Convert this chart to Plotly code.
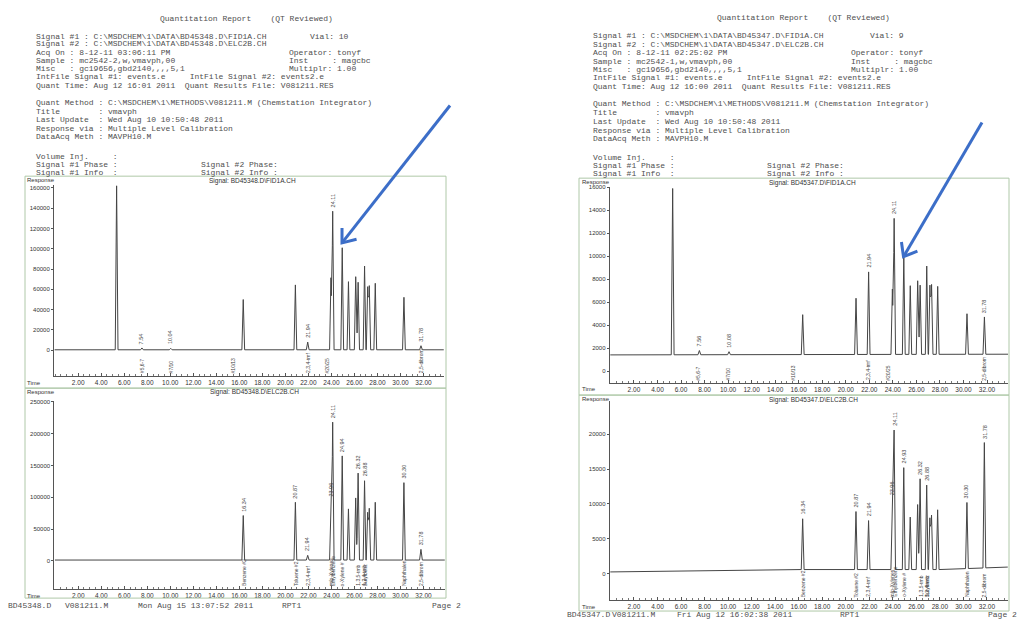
import numpy as np
import plotly.graph_objects as go

W, H = 1019, 620

# ---------------- chromatogram data (retention time in min, apex response) ----------------
# BD45348 - FID1A
fid48_rt = [5.34, 7.54, 10.04, 16.34, 20.87, 21.94, 23.96, 24.11, 24.94, 25.48,
            26.11, 26.32, 26.88, 27.15, 27.29, 27.81, 30.30, 31.78]
fid48_apex = [162000, 2300, 1900, 50000, 64400, 8100, 71500, 137000, 101000, 67600,
              72500, 67000, 83000, 62700, 63700, 66000, 52200, 4500]
fid48_base_t = [0, 34]
fid48_base_v = [500, 500]
fid48_tagged = [7.54, 10.04, 21.94, 24.11, 31.78]
fid48_event_names = ["#5,6-7", "#7/10", "#10/13", "2,3,4-tmf", "#20/25", "2,5-dibrom"]
fid48_event_rt = [7.54, 10.04, 15.47, 21.94, 23.64, 31.78]

# BD45348 - ELC2B
elc48_rt = [16.34, 20.87, 21.94, 23.96, 24.11, 24.94, 25.48, 26.11, 26.32, 26.88,
            27.15, 27.29, 27.81, 30.30, 31.78]
elc48_apex = [71400, 92200, 8900, 94800, 218000, 165000, 81800, 99000, 138000, 126000,
              76500, 82800, 92200, 123000, 18300]
elc48_base_t = [0, 34]
elc48_base_v = [1500, 1500]
elc48_tagged = [16.34, 20.87, 21.94, 23.96, 24.11, 24.94, 26.32, 26.88, 30.30, 31.78]
elc48_event_names = ["Benzene #2", "Toluene #2", "2,3,4-tmf", "m/p-Xylenes", "Ethylbenzene",
                     "o-Xylene #", "1,3,5-tmb", "1,2,4-tmb", "Butylbenz", "Naphthalen", "2,5-dibrom"]
elc48_event_rt = [16.34, 20.87, 21.94, 23.96, 24.11, 24.94, 26.32, 26.84, 26.92, 30.30, 31.78]

# BD45347 - FID1A
fid47_rt = [5.29, 7.56, 10.08, 16.34, 20.87, 21.94, 23.96, 24.11, 24.93, 25.48,
            26.11, 26.32, 26.88, 27.15, 27.29, 27.81, 30.30, 31.78]
fid47_apex = [15900, 1800, 1700, 4920, 6350, 8640, 7150, 13300, 9870, 7440,
              7870, 7490, 9150, 7490, 7550, 7380, 5000, 4720]
fid47_base_t = [0, 34]
fid47_base_v = [1420, 1480]
fid47_tagged = [7.56, 10.08, 21.94, 24.11, 31.78]
fid47_event_names = ["#5,6-7", "#7/10", "#10/13", "2,3,4-tmf", "#20/25", "2,5-dibrom"]
fid47_event_rt = [7.47, 9.95, 15.55, 21.94, 23.62, 31.78]

# BD45347 - ELC2B
elc47_rt = [16.34, 20.87, 21.94, 23.96, 24.11, 24.93, 25.48, 26.11, 26.32, 26.88,
            27.15, 27.29, 27.81, 30.30, 31.78]
elc47_apex = [7860, 8900, 7600, 10700, 20600, 15200, 8100, 9900, 13600, 12700,
              8000, 8400, 9150, 10200, 18800]
elc47_base_t = [0, 16, 28, 34]
elc47_base_v = [230, 570, 570, 940]
elc47_tagged = [16.34, 20.87, 21.94, 23.96, 24.11, 24.93, 26.32, 26.88, 30.30, 31.78]
elc47_event_names = elc48_event_names
elc47_event_rt = [16.34, 20.87, 21.94, 23.96, 24.11, 24.93, 26.32, 26.84, 26.92, 30.30, 31.78]

time_ticks = list(range(2, 33, 2))

# ---------------- page text ----------------
left_header = [
    (158, 15.7, "Quantitation Report    (QT Reviewed)"),
    (34.3, 33.3, r"Signal #1 : C:\MSDCHEM\1\DATA\BD45348.D\FID1A.CH"),
    (308, 33.3, "Vial: 10"),
    (34.3, 41.0, r"Signal #2 : C:\MSDCHEM\1\DATA\BD45348.D\ELC2B.CH"),
    (34.3, 49.3, "Acq On : 8-12-11 03:06:11 PM"),
    (287, 49.3, "Operator: tonyf"),
    (34.3, 57.7, "Sample : mc2542-2,w,vmavph,00"),
    (287, 57.7, "Inst     : magcbc"),
    (34.3, 66.3, "Misc   : gc19656,gbd2140,,,,5,1"),
    (287, 66.3, "Multiplr: 1.00"),
    (34.3, 74.3, "IntFile Signal #1: events.e     IntFile Signal #2: events2.e"),
    (34.3, 82.7, "Quant Time: Aug 12 16:01 2011  Quant Results File: V081211.RES"),
    (34.3, 100.0, r"Quant Method : C:\MSDCHEM\1\METHODS\V081211.M (Chemstation Integrator)"),
    (34.3, 108.7, "Title        : vmavph"),
    (34.3, 117.0, "Last Update  : Wed Aug 10 10:50:48 2011"),
    (34.3, 125.7, "Response via : Multiple Level Calibration"),
    (34.3, 134.0, "DataAcq Meth : MAVPH10.M"),
    (34.3, 154.0, "Volume Inj.     :"),
    (34.3, 162.5, "Signal #1 Phase :"),
    (199.3, 162.5, "Signal #2 Phase:"),
    (34.3, 170.5, "Signal #1 Info  :"),
    (199.3, 170.5, "Signal #2 Info :"),
    (6, 605, "BD45348.D"),
    (63, 605, "V081211.M"),
    (136, 605, "Mon Aug 15 13:07:52 2011"),
    (280, 605, "RPT1"),
    (430, 605, "Page 2"),
]
right_header = [
    (715, 15.0, "Quantitation Report    (QT Reviewed)"),
    (591, 33.0, r"Signal #1 : C:\MSDCHEM\1\DATA\BD45347.D\FID1A.CH"),
    (868, 33.0, "Vial: 9"),
    (591, 41.7, r"Signal #2 : C:\MSDCHEM\1\DATA\BD45347.D\ELC2B.CH"),
    (591, 50.0, "Acq On : 8-12-11 02:25:02 PM"),
    (849, 50.0, "Operator: tonyf"),
    (591, 58.7, "Sample : mc2542-1,w,vmavph,00"),
    (849, 58.7, "Inst     : magcbc"),
    (591, 67.0, "Misc   : gc19656,gbd2140,,,,5,1"),
    (849, 67.0, "Multiplr: 1.00"),
    (591, 75.0, "IntFile Signal #1: events.e     IntFile Signal #2: events2.e"),
    (591, 83.7, "Quant Time: Aug 12 16:00 2011  Quant Results File: V081211.RES"),
    (591, 101.3, r"Quant Method : C:\MSDCHEM\1\METHODS\V081211.M (Chemstation Integrator)"),
    (591, 110.0, "Title        : vmavph"),
    (591, 118.7, "Last Update  : Wed Aug 10 10:50:48 2011"),
    (591, 127.7, "Response via : Multiple Level Calibration"),
    (591, 136.3, "DataAcq Meth : MAVPH10.M"),
    (591, 155.7, "Volume Inj.     :"),
    (591, 163.5, "Signal #1 Phase :"),
    (765, 163.5, "Signal #2 Phase:"),
    (591, 171.7, "Signal #1 Info  :"),
    (765, 171.7, "Signal #2 Info :"),
    (565, 614.3, "BD45347.D"),
    (610, 614.3, "V081211.M"),
    (675, 614.3, "Fri Aug 12 16:02:38 2011"),
    (838, 614.3, "RPT1"),
    (986, 614.3, "Page 2"),
]

MONO = "Liberation Mono, Courier New, monospace"
SANS = "Liberation Sans, Arial, sans-serif"
INK = "#4f4f4f"
TRACE = "#454545"


def px(x):
    return x / W


def py(y):
    return 1 - y / H


def chromatogram(rt, apex, base_t, base_v, xr, half_width=0.12):
    knots = [xr[0] + 0.05, xr[1] - 0.02]
    for t in rt:
        knots += [t - half_width, t, t + half_width]
    x = np.unique(np.array(knots))
    base = np.interp(x, base_t, base_v)
    y = base.copy()
    for t, a in zip(rt, apex):
        h = a - np.interp(t, base_t, base_v)
        y += np.clip(h * (1 - np.abs(x - t) / half_width), 0, None)
    return x, y


panels = [
    dict(name="1", rt=fid48_rt, apex=fid48_apex, bt=fid48_base_t, bv=fid48_base_v,
         tagged=fid48_tagged, ev_names=fid48_event_names, ev_rt=fid48_event_rt,
         xr=[-0.10, 33.78], yr=[-25500, 162700], yt=list(range(0, 160001, 20000)),
         dom_x=[54, 444], dom_y=[183, 375], frame=[25, 174, 446, 387],
         resp=(25, 177.5), sig=(207, 178.5, r"Signal: BD45348.D\FID1A.CH"), time=(25, 381.7)),
    dict(name="2", rt=elc48_rt, apex=elc48_apex, bt=elc48_base_t, bv=elc48_base_v,
         tagged=elc48_tagged, ev_names=elc48_event_names, ev_rt=elc48_event_rt,
         xr=[-0.08, 33.87], yr=[-44200, 251100], yt=list(range(0, 250001, 50000)),
         dom_x=[54.3, 445], dom_y=[400, 589], frame=[25, 387, 446, 598],
         resp=(25, 390.5), sig=(208, 391, r"Signal: BD45348.D\ELC2B.CH"), time=(25, 595.7)),
    dict(name="3", rt=fid47_rt, apex=fid47_apex, bt=fid47_base_t, bv=fid47_base_v,
         tagged=fid47_tagged, ev_names=fid47_event_names, ev_rt=fid47_event_rt,
         xr=[-0.06, 33.81], yr=[-1065, 16020], yt=list(range(0, 16001, 2000)),
         dom_x=[609.7, 1008.3], dom_y=[185, 382.3], frame=[579, 176, 1009, 394],
         resp=(580, 180), sig=(766.7, 181, r"Signal: BD45347.D\FID1A.CH"), time=(580, 388.3)),
    dict(name="4", rt=elc47_rt, apex=elc47_apex, bt=elc47_base_t, bv=elc47_base_v,
         tagged=elc47_tagged, ev_names=elc47_event_names, ev_rt=elc47_event_rt,
         xr=[-0.06, 33.79], yr=[-3815, 24760], yt=list(range(0, 20001, 5000)),
         dom_x=[609.7, 1008], dom_y=[400, 600], frame=[579, 394, 1009, 611],
         resp=(580, 397.7), sig=(766.7, 398.5, r"Signal: BD45347.D\ELC2B.CH"), time=(580, 607.3)),
]

fig = go.Figure()
annotations = []
shapes = []
layout_axes = {}

for p in panels:
    n = p["name"]
    xa = "x" if n == "1" else "x" + n
    ya = "y" if n == "1" else "y" + n
    x, y = chromatogram(p["rt"], p["apex"], p["bt"], p["bv"], p["xr"])
    fig.add_trace(go.Scatter(x=x, y=y, mode="lines", xaxis=xa, yaxis=ya,
                             line=dict(color=TRACE, width=1), hoverinfo="skip"))

    layout_axes["xaxis" if n == "1" else "xaxis" + n] = dict(
        domain=[px(p["dom_x"][0]), px(p["dom_x"][1])], range=p["xr"], anchor=ya,
        showgrid=False, zeroline=False, showline=True, linecolor="#555", linewidth=1,
        tickmode="array", tickvals=time_ticks, ticktext=[f"{v:.2f}" for v in time_ticks],
        ticks="inside", ticklen=3, tickcolor="#555",
        minor=dict(ticks="inside", ticklen=2, dtick=0.5, tick0=0, tickcolor="#777", showgrid=False),
        tickfont=dict(family=SANS, size=6.5, color="#333"))
    layout_axes["yaxis" if n == "1" else "yaxis" + n] = dict(
        domain=[py(p["dom_y"][1]), py(p["dom_y"][0])], range=p["yr"], anchor=xa,
        showgrid=False, zeroline=False, showline=True, linecolor="#555", linewidth=1,
        tickmode="array", tickvals=p["yt"], ticktext=[str(v) for v in p["yt"]],
        ticks="outside", ticklen=2, tickcolor="#555",
        tickfont=dict(family=SANS, size=6, color="#333"))

    # frame around each signal plot
    fx0, fy0, fx1, fy1 = p["frame"]
    shapes.append(dict(type="rect", xref="paper", yref="paper",
                       x0=px(fx0), x1=px(fx1), y0=py(fy1), y1=py(fy0),
                       line=dict(color="#afc8a8", width=1)))

    # retention-time tags above peaks
    for t in p["tagged"]:
        a = p["apex"][p["rt"].index(t)]
        annotations.append(dict(x=t, y=a, xref=xa, yref=ya, text=f"{t:.2f}",
                                textangle=-90, showarrow=False, yanchor="bottom",
                                xanchor="center", yshift=2,
                                font=dict(family=SANS, size=5.5, color="#444")))
    # integration event / compound names under the baseline
    for name, t in zip(p["ev_names"], p["ev_rt"]):
        annotations.append(dict(x=t, y=p["yr"][0], xref=xa, yref=ya, text=name,
                                textangle=-90, showarrow=False, yanchor="bottom",
                                xanchor="center", yshift=1,
                                font=dict(family=SANS, size=5, color="#444")))

    for (lx, ly), txt in ((p["resp"], "Response"), (p["time"], "Time")):
        annotations.append(dict(x=px(lx), y=py(ly), xref="paper", yref="paper", text=txt,
                                showarrow=False, xanchor="left", yanchor="middle",
                                font=dict(family=SANS, size=6, color="#333")))
    sx, sy, st = p["sig"]
    annotations.append(dict(x=px(sx), y=py(sy), xref="paper", yref="paper", text=st,
                            showarrow=False, xanchor="left", yanchor="middle",
                            font=dict(family=SANS, size=6.5, color="#333")))

for xx, yy, txt in left_header + right_header:
    annotations.append(dict(x=px(xx), y=py(yy), xref="paper", yref="paper",
                            text=txt.replace(" ", "\u00a0"), showarrow=False,
                            xanchor="left", yanchor="middle",
                            font=dict(family=MONO, size=8, color=INK)))

# hand-drawn blue arrows pointing at the 24.9 min peak
ARROW = "#3c6ec8"
for (tx, ty), (hx, hy) in (((450, 103), (342, 241)), ((982, 120), (903.5, 255))):
    shapes.append(dict(type="line", xref="paper", yref="paper",
                       x0=px(tx), y0=py(ty), x1=px(hx), y1=py(hy),
                       line=dict(color=ARROW, width=3)))
    d = np.array([tx - hx, ty - hy], dtype=float)
    d /= np.linalg.norm(d)
    wings = []
    for ang in (np.radians(38), -np.radians(38)):
        r = np.array([d[0] * np.cos(ang) - d[1] * np.sin(ang),
                      d[0] * np.sin(ang) + d[1] * np.cos(ang)])
        wings.append((hx + 15 * r[0], hy + 15 * r[1]))
    path = (f"M {px(wings[0][0])},{py(wings[0][1])} L {px(hx)},{py(hy)} "
            f"L {px(wings[1][0])},{py(wings[1][1])}")
    shapes.append(dict(type="path", xref="paper", yref="paper", path=path,
                       line=dict(color=ARROW, width=3)))

fig.update_layout(
    width=W, height=H, autosize=False,
    margin=dict(l=0, r=0, t=0, b=0),
    paper_bgcolor="white", plot_bgcolor="white",
    showlegend=False,
    annotations=annotations, shapes=shapes,
    **layout_axes,
)

fig.write_html("out.html")
